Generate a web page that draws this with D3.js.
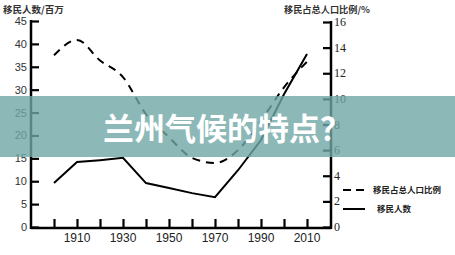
<!DOCTYPE html>
<html>
<head>
<meta charset="utf-8">
<script src="https://cdn.jsdelivr.net/npm/d3@7"></script>
<style>
  body { margin: 0; background: #fff; }
  svg { display: block; }
</style>
</head>
<body>
<div id="chart"></div>
<script>
// data
var years = [1900, 1910, 1920, 1930, 1940, 1950, 1960, 1970, 1980, 1990, 2000, 2010];
var migrants = [9.6, 14.2, 14.6, 15.1, 9.6, 8.5, 7.4, 6.5, 12.4, 19, 29, 37.8];   // 百万
var share = [13.4, 14.6, 13.0, 11.7, 8.8, 7.0, 5.4, 5.0, 6.0, 8.3, 10.9, 12.9];    // %
var xTickYears = [1900, 1910, 1920, 1930, 1940, 1950, 1960, 1970, 1980, 1990, 2000, 2010];
var xLabelYears = [1910, 1930, 1950, 1970, 1990, 2010];
var leftTicks = [0, 5, 10, 15, 20, 25, 30, 35, 40, 45];
var rightTicks = [0, 2, 4, 6, 8, 10, 12, 14, 16];
var legendNames = ['移民占总人口比例', '移民人数'];
var title = '兰州气候的特点？';

var W = 455, H = 255;
var svg = d3.select('#chart').append('svg').attr('width', W).attr('height', H);

var x = d3.scaleLinear().domain([1890, 2020]).range([31, 330]);
var yL = d3.scaleLinear().domain([0, 45]).range([227, 21]);
var yR = d3.scaleLinear().domain([0, 16]).range([227, 22]);

// axes, ticks point inward
var xAxis = svg.append('g').attr('transform', 'translate(0,227)')
  .call(d3.axisBottom(x).tickValues(xTickYears).tickSize(-8).tickFormat(''));
var lAxis = svg.append('g').attr('transform', 'translate(31,0)')
  .call(d3.axisLeft(yL).tickValues(leftTicks).tickSize(-8).tickFormat(''));
var rAxis = svg.append('g').attr('transform', 'translate(331,0)')
  .call(d3.axisRight(yR).tickValues(rightTicks).tickSize(-8).tickFormat(''));

[xAxis, lAxis, rAxis].forEach(function(g){
  g.select('.domain').remove();
  g.selectAll('.tick line').attr('stroke', '#000').attr('stroke-width', 2.2);
});
svg.append('line').attr('x1', 31).attr('x2', 331).attr('y1', 228).attr('y2', 228)
  .attr('stroke', '#000').attr('stroke-width', 2.5);
svg.append('line').attr('x1', 31).attr('x2', 31).attr('y1', yL(45) - 1).attr('y2', 229)
  .attr('stroke', '#000').attr('stroke-width', 2.5);
svg.append('line').attr('x1', 331).attr('x2', 331).attr('y1', yR(16) - 1).attr('y2', 229)
  .attr('stroke', '#000').attr('stroke-width', 2.5);

// tick labels
svg.selectAll('.lt').data(leftTicks).enter().append('text')
  .attr('x', 27).attr('y', function(d){ return yL(d) + 4; })
  .attr('text-anchor', 'end').attr('font-family', 'Liberation Sans, Arial, sans-serif')
  .attr('font-size', 11).attr('fill', '#333').text(function(d){ return d; });

svg.selectAll('.rt').data(rightTicks).enter().append('text')
  .attr('x', 334).attr('y', function(d){ return yR(d) + 4; })
  .attr('font-family', 'Liberation Serif, Times New Roman, serif')
  .attr('font-size', 12).attr('fill', '#222').text(function(d){ return d; });

svg.selectAll('.xt').data(xLabelYears).enter().append('text')
  .attr('x', function(d){ return x(d); }).attr('y', 242)
  .attr('text-anchor', 'middle').attr('font-family', 'Liberation Sans, Arial, sans-serif')
  .attr('font-size', 12).attr('fill', '#222').text(function(d){ return d; });

// axis titles
svg.append('text').attr('x', 3).attr('y', 12.5)
  .attr('font-family', 'Noto Sans CJK SC, sans-serif').attr('font-size', 9.5)
  .attr('font-weight', 'bold').attr('fill', '#333').text('移民人数/百万');
svg.append('text').attr('x', 284).attr('y', 13)
  .attr('font-family', 'Noto Sans CJK SC, sans-serif').attr('font-size', 9.2)
  .attr('font-weight', 'bold').attr('fill', '#333').text('移民占总人口比例/%');

// lines
var solid = d3.line().x(function(d, i){ return x(years[i]); }).y(function(d){ return yL(d); });
var dashed = d3.line().curve(d3.curveMonotoneX)
  .x(function(d, i){ return x(years[i]); }).y(function(d){ return yR(d); });

svg.append('path').datum(share).attr('d', dashed)
  .attr('fill', 'none').attr('stroke', '#000').attr('stroke-width', 2)
  .attr('stroke-dasharray', '8,6');
svg.append('path').datum(migrants).attr('d', solid)
  .attr('fill', 'none').attr('stroke', '#000').attr('stroke-width', 2);

// legend
var lg = svg.append('g');
lg.append('line').attr('x1', 343).attr('x2', 366).attr('y1', 190).attr('y2', 190)
  .attr('stroke', '#000').attr('stroke-width', 2).attr('stroke-dasharray', '8,5');
lg.append('line').attr('x1', 343).attr('x2', 365).attr('y1', 209).attr('y2', 209)
  .attr('stroke', '#000').attr('stroke-width', 2);
lg.append('text').attr('x', 373).attr('y', 193).attr('font-family', 'Noto Sans CJK SC, sans-serif')
  .attr('font-size', 8.5).attr('font-weight', 'bold').attr('fill', '#222').text(legendNames[0]);
lg.append('text').attr('x', 377).attr('y', 212).attr('font-family', 'Noto Sans CJK SC, sans-serif')
  .attr('font-size', 8.5).attr('font-weight', 'bold').attr('fill', '#222').text(legendNames[1]);

// title banner
svg.append('rect').attr('x', 0).attr('y', 96).attr('width', W).attr('height', 61)
  .attr('fill', '#6fa8a6').attr('opacity', 0.8);
svg.append('text').attr('x', 227).attr('y', 140).attr('text-anchor', 'middle')
  .attr('font-family', 'Noto Sans CJK SC, sans-serif').attr('font-weight', 'bold')
  .attr('font-size', 31).attr('fill', '#fff').text(title);
</script>
</body>
</html>
